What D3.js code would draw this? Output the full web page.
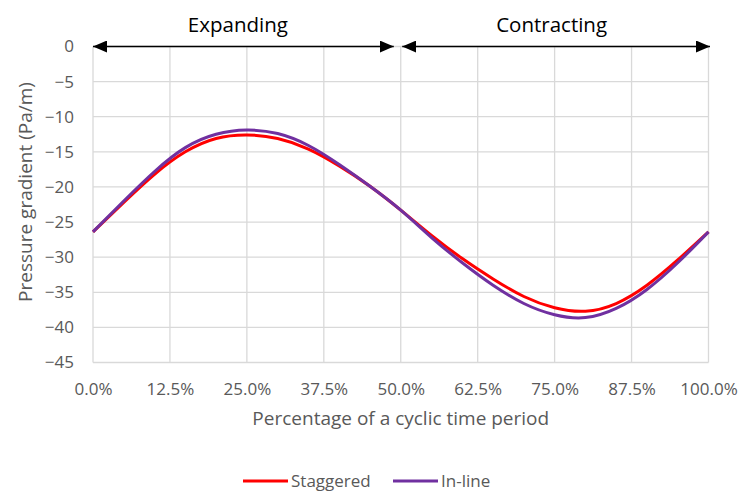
<!DOCTYPE html>
<html><head><meta charset="utf-8">
<script src="https://cdn.jsdelivr.net/npm/d3@7"></script>
<style>body{margin:0;background:#fff}svg text{font-family:"Open Sans",sans-serif;fill:#595959}</style>
</head><body><svg id="c" width="746" height="499"></svg>
<script>
const pct = [0,5,10,15,20,25,30,35,40,45,50,55,60,65,70,75,80,85,90,95,100];
const staggered = [-26.4,-22.2,-18.2,-15.0,-13.1,-12.6,-13.1,-14.6,-17.0,-19.9,-23.3,-26.9,-30.2,-33.1,-35.6,-37.2,-37.7,-36.6,-34.0,-30.4,-26.4];
const inline = [-26.4,-22.0,-17.8,-14.4,-12.5,-11.9,-12.4,-14.1,-16.8,-19.9,-23.3,-27.2,-30.8,-34.0,-36.6,-38.2,-38.6,-37.3,-34.6,-30.8,-26.4];
const xTicks = [0,12.5,25,37.5,50,62.5,75,87.5,100];
const yTicks = [0,-5,-10,-15,-20,-25,-30,-35,-40,-45];
const phases = [{label:"Expanding",from:0,to:50},{label:"Contracting",from:50,to:100}];
const seriesNames = ["Staggered","In-line"];
const colors = ["#ff0000","#7030a0"];

const svg = d3.select("#c");
const L=93,R=708.5,T=46.5,B=362.5;
const x = d3.scaleLinear().domain([0,100]).range([L,R]);
const y = d3.scaleLinear().domain([-45,0]).range([B,T]);

// gridlines
svg.append("g").selectAll("line").data(yTicks).join("line")
  .attr("x1",L).attr("x2",R).attr("y1",d=>y(d)).attr("y2",d=>y(d))
  .attr("stroke","#d9d9d9").attr("stroke-width",1.3);
svg.append("g").selectAll("line").data(xTicks).join("line")
  .attr("x1",d=>x(d)).attr("x2",d=>x(d)).attr("y1",T).attr("y2",B)
  .attr("stroke","#d9d9d9").attr("stroke-width",1.3);

// axes labels via d3 axes
const yAx = svg.append("g").attr("transform",`translate(${L},0)`)
  .call(d3.axisLeft(y).tickValues(yTicks).tickSize(0).tickPadding(19).tickFormat(d=>d===0?"0":"\u2212"+Math.abs(d)));
yAx.select(".domain").remove();
yAx.selectAll("text").style("font-size","17px").attr("fill","#595959");
const xAx = svg.append("g").attr("transform",`translate(0,${B})`)
  .call(d3.axisBottom(x).tickValues(xTicks).tickSize(0).tickPadding(20).tickFormat(d=>d.toFixed(1)+"%"));
xAx.select(".domain").remove();
xAx.selectAll("text").style("font-size","17px").attr("fill","#595959");

// series
const line = d3.line().x((d,i)=>x(pct[i])).y(d=>y(d)).curve(d3.curveNatural);
[staggered,inline].forEach((s,k)=>{
  svg.append("path").datum(s).attr("d",line).attr("fill","none")
    .attr("stroke",colors[k]).attr("stroke-width",3);
});

// phase arrows
const defs = svg.append("defs");
defs.append("marker").attr("id","ah").attr("viewBox","0 0 14 12").attr("refX",14).attr("refY",6)
  .attr("markerWidth",14).attr("markerHeight",12).attr("markerUnits","userSpaceOnUse").attr("orient","auto-start-reverse")
  .append("path").attr("d","M0,0L14,6L0,12Z").attr("fill","#000");
phases.forEach((p,i)=>{
  const x1 = x(p.from)+(i===0?0:1.5), x2 = x(p.to)+(i===0?-7:1.5);
  svg.append("line").attr("x1",x1).attr("x2",x2).attr("y1",T).attr("y2",T)
    .attr("stroke","#000").attr("stroke-width",1.3)
    .attr("marker-start","url(#ah)").attr("marker-end","url(#ah)");
  svg.append("text").attr("x",(x(p.from)+x(p.to))/2-(i===0?9:3)).attr("y",32)
    .attr("text-anchor","middle").style("font-size","20.5px").style("fill","#000").text(p.label);
});

// axis titles
svg.append("text").attr("x",(L+R)/2).attr("y",425).attr("text-anchor","middle")
  .style("font-size","19px").text("Percentage of a cyclic time period");
svg.append("text").attr("transform",`translate(32,192) rotate(-90)`).attr("text-anchor","middle")
  .style("font-size","19px").text("Pressure gradient (Pa/m)");

// legend
const lg = [{x:243},{x:393}];
seriesNames.forEach((n,k)=>{
  svg.append("line").attr("x1",lg[k].x).attr("x2",lg[k].x+45).attr("y1",481).attr("y2",481)
    .attr("stroke",colors[k]).attr("stroke-width",3);
  svg.append("text").attr("x",lg[k].x+48).attr("y",487).style("font-size","17px").text(n);
});
</script></body></html>
